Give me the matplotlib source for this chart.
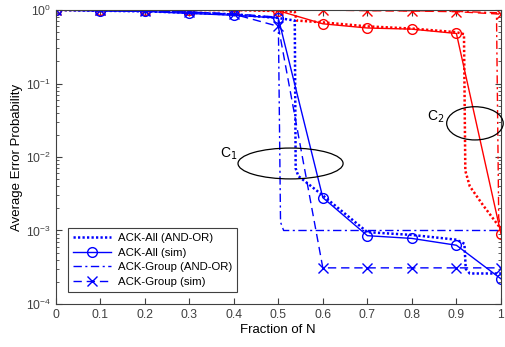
import numpy as np
import matplotlib
matplotlib.use('Agg')
import matplotlib.pyplot as plt
from matplotlib.patches import Ellipse

#------------------------------------------------------------------------------------
# data
frac = [0.0, 0.1, 0.2, 0.3, 0.4, 0.5, 0.6, 0.7, 0.8, 0.9, 1.0]

# blue curves (in legend)
b_all_sim   = [1.0, 0.97, 0.96, 0.90, 0.85, 0.78, 2.8e-3, 8.5e-4, 7.8e-4, 6.3e-4, 2.2e-4]
b_grp_sim   = [1.0, 0.99, 0.97, 0.94, 0.88, 0.60, 3.1e-4, 3.1e-4, 3.1e-4, 3.1e-4, 3.1e-4]
b_all_ao_x  = [0.0, 0.1, 0.2, 0.3, 0.4, 0.5, 0.537, 0.539, 0.545, 0.6, 0.7, 0.8, 0.9, 0.918, 0.921, 0.93, 1.0]
b_all_ao_y  = [1.0, 0.98, 0.96, 0.92, 0.87, 0.78, 0.72, 7e-3, 5.5e-3, 3.0e-3, 9.5e-4, 8.7e-4, 7.5e-4, 6.6e-4, 3.0e-4, 2.6e-4, 2.6e-4]
b_grp_ao_x  = [0.0, 0.1, 0.2, 0.3, 0.4, 0.5, 0.505, 0.512, 1.0]
b_grp_ao_y  = [1.0, 0.99, 0.97, 0.94, 0.89, 0.80, 1.3e-3, 1.0e-3, 1.0e-3]

# red curves (not in legend)
r_all_sim   = [1.0, 1.0, 1.0, 1.0, 1.0, 0.98, 0.65, 0.57, 0.55, 0.48, 9e-4]
r_grp_sim   = [1.0, 1.0, 1.0, 1.0, 1.0, 1.0, 1.0, 0.98, 0.97, 0.95, 0.88]
r_all_ao_x  = [0.0, 0.1, 0.2, 0.3, 0.4, 0.5, 0.537, 0.541, 0.6, 0.7, 0.8, 0.9, 0.917, 0.92, 0.93, 0.96, 1.0]
r_all_ao_y  = [1.0, 1.0, 1.0, 1.0, 1.0, 0.97, 0.95, 0.72, 0.68, 0.60, 0.56, 0.50, 0.47, 6.5e-3, 4.0e-3, 2.2e-3, 1.05e-3]
r_grp_ao_x  = [0.0, 0.1, 0.2, 0.3, 0.4, 0.5, 0.6, 0.7, 0.8, 0.9, 0.99, 0.995, 1.0]
r_grp_ao_y  = [1.0, 1.0, 1.0, 1.0, 1.0, 1.0, 1.0, 0.99, 0.98, 0.96, 0.92, 1.5e-3, 1.0e-3]

labels = ['ACK-All (AND-OR)', 'ACK-All (sim)', 'ACK-Group (AND-OR)', 'ACK-Group (sim)']
#------------------------------------------------------------------------------------
plt.rcParams['font.family'] = ['Liberation Sans', 'DejaVu Sans']
fig = plt.figure(figsize=(5.06, 3.47), dpi=100)
ax = fig.add_axes([0.110, 0.124, 0.880, 0.847])
ax.set_yscale('log')

mk = dict(markersize=7, markerfacecolor='none', markeredgewidth=1.0)
dash = (0, (6, 3.5))
dashdot = (0, (6, 2.5, 1.5, 2.5))
dot = (0, (0.9, 0.9))

# red
ax.plot(r_all_ao_x, r_all_ao_y, color='red', lw=1.8, linestyle=dot)
ax.plot(frac, r_all_sim, '-', color='red', lw=1.0, marker='o', **mk)
ax.plot(r_grp_ao_x, r_grp_ao_y, color='red', lw=1.0, linestyle=dashdot)
ax.plot(frac, r_grp_sim, color='red', lw=1.0, linestyle=dash, marker='x', **mk)

# blue
h1, = ax.plot(b_all_ao_x, b_all_ao_y, color='blue', lw=1.8, linestyle=dot)
h2, = ax.plot(frac, b_all_sim, '-', color='blue', lw=1.0, marker='o', **mk)
h3, = ax.plot(b_grp_ao_x, b_grp_ao_y, color='blue', lw=1.0, linestyle=dashdot)
h4, = ax.plot(frac, b_grp_sim, color='blue', lw=1.0, linestyle=dash, marker='x', **mk)

# annotations
ax.add_patch(Ellipse((0.5275, 0.478), 0.236, 0.105, transform=ax.transAxes,
                     fill=False, ec='black', lw=0.9, clip_on=False, zorder=5))
ax.add_patch(Ellipse((0.9416, 0.6146), 0.127, 0.113, transform=ax.transAxes,
                     fill=False, ec='black', lw=0.9, clip_on=False, zorder=5))
ax.text(0.369, 0.512, r'C$_1$', transform=ax.transAxes, fontsize=10, va='center', ha='left')
ax.text(0.834, 0.636, r'C$_2$', transform=ax.transAxes, fontsize=10, va='center', ha='left')

ax.set_xlim([0, 1]);  ax.set_ylim([1e-4, 1])
ax.set_xticks(frac)
ax.set_xticklabels(['0', '0.1', '0.2', '0.3', '0.4', '0.5', '0.6', '0.7', '0.8', '0.9', '1'])
ax.tick_params(which='both', direction='in', top=True, right=True, colors='#404040', labelsize=8.7)
ax.tick_params(which='major', length=4)
ax.tick_params(which='minor', length=2)
for s in ax.spines.values():
  s.set_color('#404040')
ax.set_xlabel('Fraction of N', fontsize=9.5, labelpad=2)
ax.set_ylabel('Average Error Probability', fontsize=9.5, labelpad=2)

leg = ax.legend([h1, h2, h3, h4], labels, loc='lower left', fontsize=8.2, fancybox=False,
                edgecolor='#404040', framealpha=1, borderaxespad=0.0,
                bbox_to_anchor=(0.028, 0.04), handlelength=3.3, labelspacing=0.42,
                borderpad=0.45, handletextpad=0.6)
leg.get_frame().set_linewidth(0.8)

fig.savefig('out.png', dpi=100)
